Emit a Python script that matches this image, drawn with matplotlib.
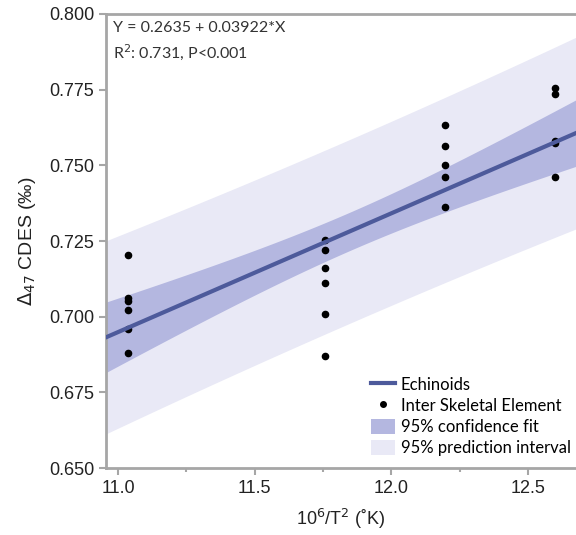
import numpy as np
import matplotlib.pyplot as plt
from matplotlib.lines import Line2D
from matplotlib.patches import Patch

# Inter skeletal element measurements, grouped by temperature
x_vals = [11.036] * 6 + [11.757] * 6 + [12.198] * 5 + [12.598] * 5
d47 = [0.7203, 0.7062, 0.7053, 0.7021, 0.6961, 0.6880,
       0.7252, 0.7221, 0.7160, 0.7110, 0.7010, 0.6869,
       0.7633, 0.7563, 0.7502, 0.7463, 0.7362,
       0.7755, 0.7735, 0.7580, 0.7573, 0.7463]

# Regression from the equation printed on the plot
b0 = 0.2635
b1 = 0.03922
r2_text = "R$^2$: 0.731, P<0.001"

x = np.array(x_vals)
y = np.array(d47)
n = len(x)

# Confidence and prediction bands (normal approx., 95%)
z95 = 1.96
resid = y - (b0 + b1 * x)
s = np.sqrt(np.sum(resid ** 2) / (n - 2))
xm = x.mean()
sxx = np.sum((x - xm) ** 2)

xx = np.linspace(10.9, 12.75, 200)
yy = b0 + b1 * xx
se_fit = s * np.sqrt(1.0 / n + (xx - xm) ** 2 / sxx)
se_pred = s * np.sqrt(1 + 1.0 / n + (xx - xm) ** 2 / sxx)

line_col = '#4d5a9b'
conf_col = '#b4b7e0'
pred_col = '#e9e9f6'
spine_col = '#a6a6a6'

fig = plt.figure(figsize=(5.76, 5.35), dpi=100)
ax = fig.add_axes([0.184, 0.125, 0.816, 0.849])

ax.fill_between(xx, yy - z95 * se_pred, yy + z95 * se_pred, color=pred_col, lw=0, zorder=1)
ax.fill_between(xx, yy - z95 * se_fit, yy + z95 * se_fit, color=conf_col, lw=0, zorder=2)
ax.scatter(x, y, s=20, color='black', zorder=3)
ax.plot(xx, yy, color=line_col, lw=3, zorder=4)

ax.set_xlim(10.956, 12.676)
ax.set_ylim(0.65, 0.80)
ax.set_xticks([11.0, 11.5, 12.0, 12.5])
ax.set_xticks([11.25, 11.75, 12.25], minor=True)
ax.set_yticks(np.arange(0.65, 0.8001, 0.025))
ax.yaxis.set_major_formatter(plt.FormatStrFormatter('%.3f'))
ax.xaxis.set_major_formatter(plt.FormatStrFormatter('%.1f'))

for side in ['left', 'bottom', 'top']:
    ax.spines[side].set_color(spine_col)
    ax.spines[side].set_linewidth(2)
ax.spines['right'].set_visible(False)

ax.tick_params(axis='both', which='major', direction='out', length=5, width=1.5,
               color=spine_col, labelsize=13, labelcolor='#222222',
               labelfontfamily='Liberation Sans')
ax.tick_params(axis='x', which='minor', direction='out', length=3, width=1.5, color=spine_col)

ax.set_xlabel('10$^6$/T$^2$ (˚K)', fontsize=13, family='Liberation Sans', color='#222222', labelpad=7)
ax.set_ylabel(r'$\Delta_{47}$ CDES (‰)', fontsize=14, family='Liberation Sans', color='#222222', labelpad=8)

ax.text(0.015, 0.969, 'Y = 0.2635 + 0.03922*X', transform=ax.transAxes,
        fontsize=11.5, family='Lato', color='#333333', va='center')
ax.text(0.015, 0.916, r2_text, transform=ax.transAxes,
        fontsize=11.5, family='Lato', color='#333333', va='center')

handles = [Line2D([], [], color=line_col, lw=3),
           Line2D([], [], color='black', marker='o', ms=4, lw=0),
           Patch(facecolor=conf_col, edgecolor='none'),
           Patch(facecolor=pred_col, edgecolor='none')]
labels = ['Echinoids', 'Inter Skeletal Element', '95% confidence fit', '95% prediction interval']
ax.legend(handles, labels, loc='lower right', bbox_to_anchor=(1.0, 0.015), frameon=False,
          prop={'family': 'Lato', 'size': 12}, handlelength=1.45, handleheight=1.0,
          handletextpad=0.35, labelspacing=0.3, borderaxespad=0.1, borderpad=0.2)

fig.savefig('out.png', dpi=100)
